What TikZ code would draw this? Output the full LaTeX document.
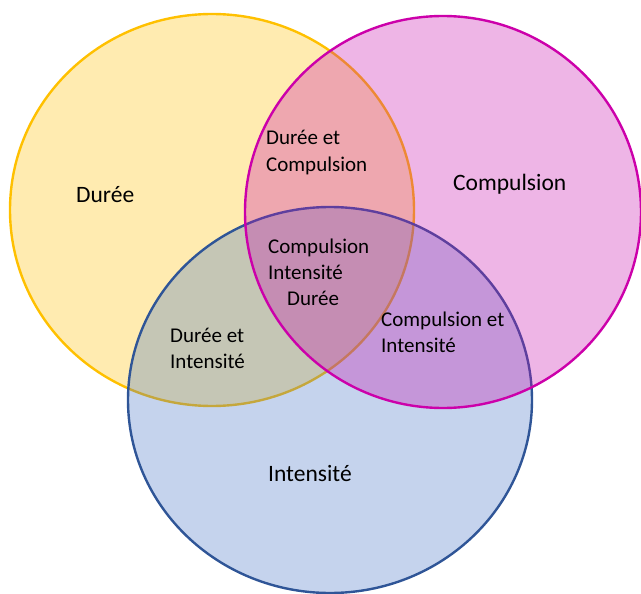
\documentclass[tikz,border=0pt]{standalone}
\usepackage{fontspec}
\setmainfont{Carlito}
\usepackage{tikz}
\usetikzlibrary{positioning}
\definecolor{dureeLine}{HTML}{FFC000}
\definecolor{dureeFill}{HTML}{FFC000}
\definecolor{compLine}{HTML}{CC00AA}
\definecolor{compFill}{HTML}{C810AE}
\definecolor{intLine}{HTML}{2F5597}
\definecolor{intFill}{HTML}{4472C4}
\newcommand{\drawSet}[6]{
    \draw[line width=2.4pt, draw=#5, fill=#6, fill opacity=0.31] (#1,#2) ellipse (#3pt and #4pt)
}
\tikzset{
    bigLabel/.style={anchor=base west, inner sep=0pt, font=\fontsize{23.5}{28}\selectfont},
    smallLabel/.style={anchor=base west, inner sep=0pt, font=\fontsize{21}{26}\selectfont}
}

\begin{document}
\begin{tikzpicture}[x=1pt,y=-1pt]
            \useasboundingbox (0,0) rectangle (641,594);
            \drawSet{212}{210}{202}{196}{dureeLine}{dureeFill};
            \drawSet{330}{400}{202}{193}{intLine}{intFill};
            \drawSet{443}{212}{198}{196}{compLine}{compFill};

            \node[bigLabel] (lblDuree) at (76,202) {Durée};
            \node[bigLabel] (lblComp) at (453,190) {Compulsion};
            \node[bigLabel] (lblInt) at (268,481) {Intensité};

            \node[smallLabel] (lblDC1) at (266,145) {Durée et};
            \node[smallLabel] (lblDC2) at (266,171.5) {Compulsion};

            \node[smallLabel] (lblAll1) at (268,253) {Compulsion};
            \node[smallLabel] (lblAll2) at (268,279) {Intensité};
            \node[smallLabel] (lblAll3) at (287,305) {Durée};

            \node[smallLabel] (lblDI1) at (170,342) {Durée et};
            \node[smallLabel] (lblDI2) at (170,368) {Intensité};

            \node[smallLabel] (lblCI1) at (381,326) {Compulsion et};
            \node[smallLabel] (lblCI2) at (381,352) {Intensité};
        \end{tikzpicture}
\end{document}
